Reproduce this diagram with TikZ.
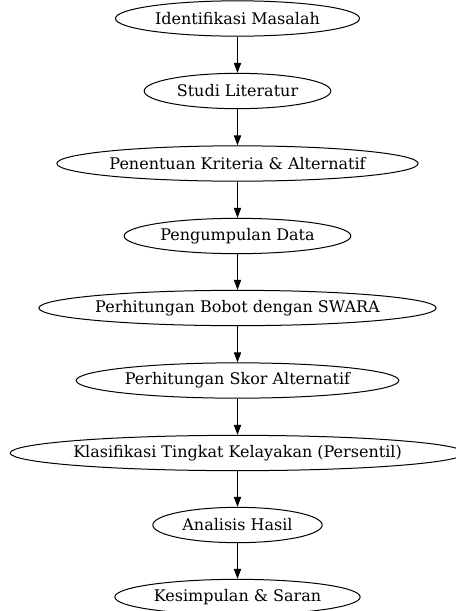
\documentclass[tikz,border=0pt]{standalone}
\usepackage{fontspec}
\setmainfont{DejaVu Serif}
\usetikzlibrary{shapes.geometric,arrows.meta}

\tikzset{
  stage/.style={draw, ellipse, line width=0.75pt, inner ysep=0pt, inner xsep=-30pt, minimum height=26.5pt, font=\fontsize{12}{14}\selectfont},
  flow/.style={draw, line width=0.75pt, -{Triangle[length=7.5pt,width=5.5pt]}}
}

\begin{document}
\begin{tikzpicture}[x=0.75pt,y=0.75pt,yscale=-1,xscale=1]
\useasboundingbox (0,0) rectangle (455,611);

% Stages
\node [stage, minimum width=183pt] (identifikasi) at (237.5,18.5) {Identifikasi Masalah};
\node [stage, minimum width=140pt] (studi) at (237.5,91) {Studi Literatur};
\node [stage, minimum width=271pt] (kriteria) at (237.5,163.5) {Penentuan Kriteria \& Alternatif};
\node [stage, minimum width=170pt] (pengumpulan) at (237.5,236) {Pengumpulan Data};
\node [stage, minimum width=298pt] (bobot) at (237.5,308) {Perhitungan Bobot dengan SWARA};
\node [stage, minimum width=242pt] (skor) at (237.5,380.5) {Perhitungan Skor Alternatif};
\node [stage, minimum width=341pt] (klasifikasi) at (237.5,453) {Klasifikasi Tingkat Kelayakan (Persentil)};
\node [stage, minimum width=127pt] (analisis) at (237.5,525) {Analisis Hasil};
\node [stage, minimum width=184pt] (kesimpulan) at (237.5,597) {Kesimpulan \& Saran};

% Arrows
\draw [flow] (identifikasi) -- (studi);
\draw [flow] (studi) -- (kriteria);
\draw [flow] (kriteria) -- (pengumpulan);
\draw [flow] (pengumpulan) -- (bobot);
\draw [flow] (bobot) -- (skor);
\draw [flow] (skor) -- (klasifikasi);
\draw [flow] (klasifikasi) -- (analisis);
\draw [flow] (analisis) -- (kesimpulan);

\end{tikzpicture}
\end{document}
